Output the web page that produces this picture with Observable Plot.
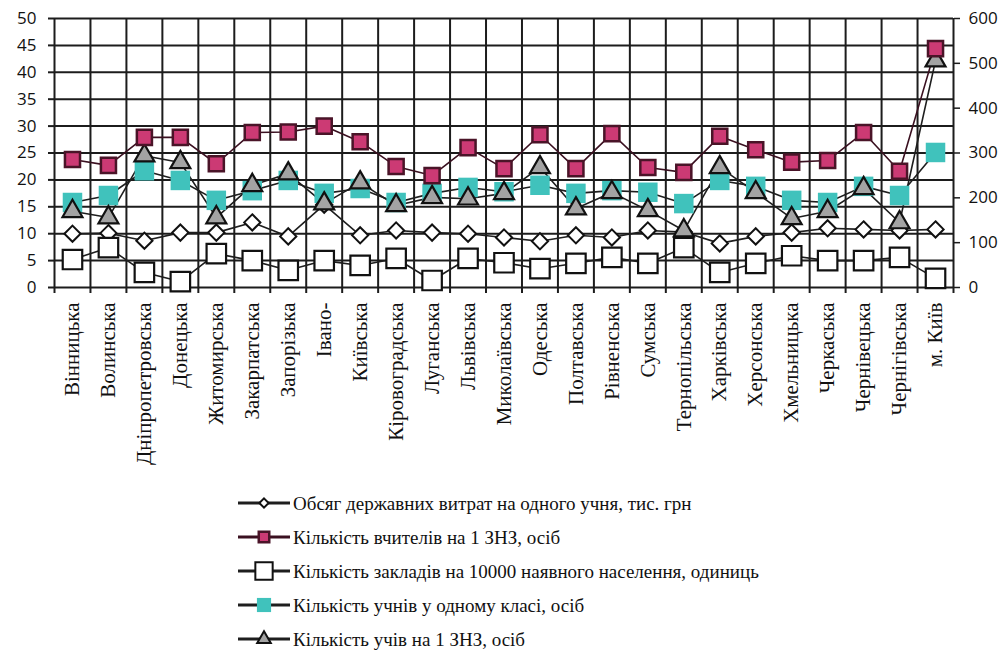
<!DOCTYPE html>
<html>
<head>
<meta charset="utf-8">
<script src="https://cdn.jsdelivr.net/npm/d3@7"></script>
<script src="https://cdn.jsdelivr.net/npm/@observablehq/plot@0.6"></script>
<style>
  body { margin: 0; background: #fff; }
  #chart svg, #legend svg { display: block; }
</style>
</head>
<body>
<div id="chart"></div>
<div id="legend"></div>
<script>
// ---------- data ----------
const regions = ["Вінницька","Волинська","Дніпропетровська","Донецька","Житомирська","Закарпатська","Запорізька","Івано-","Київська","Кіровоградська","Луганська","Львівська","Миколаївська","Одеська","Полтавська","Рівненська","Сумська","Тернопільська","Харківська","Херсонська","Хмельницька","Черкаська","Чернівецька","Чернігівська","м. Київ"];
const spending  = [10.0,10.1,8.7,10.2,10.2,12.1,9.5,15.4,9.7,10.6,10.2,10.0,9.3,8.6,9.7,9.3,10.6,10.3,8.2,9.5,10.2,11.0,10.8,10.6,10.8];
const teachers  = [23.8,22.7,27.9,27.9,23.0,28.8,28.9,30.0,27.1,22.5,20.8,26.0,22.1,28.4,22.1,28.6,22.3,21.4,28.1,25.6,23.3,23.6,28.8,21.6,44.4];
const schools   = [5.2,7.4,2.8,1.1,6.3,5.0,3.2,5.0,4.1,5.4,1.3,5.4,4.6,3.5,4.5,5.6,4.5,7.4,2.8,4.5,5.9,5.0,5.0,5.6,1.7];
const classSize = [15.8,17.1,21.7,19.9,16.2,18.0,19.9,17.5,18.4,15.8,17.5,18.6,17.8,19.0,17.5,18.0,17.7,15.6,19.9,18.8,16.2,15.8,18.8,17.1,25.1];
const pupils    = [170,156,294,279,156,228,254,187,234,183,201,198,210,268,176,212,172,127,268,212,154,170,221,145,506];

const leftTicks  = [0,5,10,15,20,25,30,35,40,45,50];
const rightTicks = [0,100,200,300,400,500,600];
const seriesNames = [
  "Обсяг державних витрат на одного учня, тис. грн",
  "Кількість вчителів на 1 ЗНЗ, осіб",
  "Кількість закладів на 10000 наявного населення, одиниць",
  "Кількість учнів у одному класі, осіб",
  "Кількість учів на 1 ЗНЗ, осіб"
];

// ---------- build ----------
const leftMax = d3.max(leftTicks), rightMax = d3.max(rightTicks);
const ratio = rightMax / leftMax;
const rows = regions.map((r, i) => ({
  x: i + 0.5, region: r,
  spending: spending[i], teachers: teachers[i], schools: schools[i],
  classSize: classSize[i], pupils: pupils[i] / ratio
}));
const bounds = d3.range(0, regions.length + 1);

const GRID = "#1c1c1c";
const PINK = "#cc3a74", PINK_STROKE = "#4a1428";
const CYAN = "#40c2bc";
const TRI = "#a3a3a3";

const lineOpts = {x: "x", stroke: "#1e1e1e", strokeWidth: 1.6};

const chart = Plot.plot({
  width: 1005,
  height: 480,
  marginLeft: 54,
  marginRight: 52,
  marginTop: 18,
  marginBottom: 193,
  x: {domain: [0, regions.length], label: null},
  y: {domain: [0, leftMax], label: null},
  style: {background: "#fff", color: "#111"},
  marks: [
    Plot.ruleY(leftTicks, {stroke: GRID, strokeWidth: 2}),
    Plot.ruleX(bounds, {y1: 0, y2: leftMax, stroke: GRID, strokeWidth: 2}),
    Plot.axisX({ticks: bounds, tickFormat: () => "", tickSize: 6, stroke: GRID, strokeWidth: 2}),
    Plot.axisX({
      ticks: rows.map(d => d.x),
      tickFormat: d => regions[Math.floor(d)],
      tickRotate: -90, tickSize: 0, tickPadding: 15,
      fontSize: 21, fontFamily: "Liberation Serif", fill: "#111"
    }),
    Plot.axisY({ticks: leftTicks, anchor: "left", tickSize: 6, tickPadding: 12,
      fontSize: 17, fontFamily: "Open Sans", fill: "#111", stroke: GRID, strokeWidth: 2}),
    Plot.axisY({ticks: rightTicks.map(v => v / ratio), tickFormat: d => Math.round(d * ratio),
      anchor: "right", tickSize: 6, tickPadding: 9,
      fontSize: 17, fontFamily: "Open Sans", fill: "#111", stroke: GRID, strokeWidth: 1.5}),
    // lines
    Plot.line(rows, {...lineOpts, y: "classSize"}),
    Plot.line(rows, {...lineOpts, y: "spending"}),
    Plot.line(rows, {...lineOpts, y: "schools"}),
    Plot.line(rows, {...lineOpts, y: "pupils"}),
    Plot.line(rows, {...lineOpts, y: "teachers", stroke: "#3a1020"}),
    // markers
    Plot.dot(rows, {x: "x", y: "classSize", symbol: "square", r: 11, fill: CYAN, stroke: "none"}),
    Plot.dot(rows, {x: "x", y: "spending", symbol: "diamond2", r: 7.3, fill: "#fff", stroke: "#111", strokeWidth: 2}),
    Plot.dot(rows, {x: "x", y: "schools", symbol: "square", r: 11, fill: "#fff", stroke: "#111", strokeWidth: 2.2}),
    Plot.dot(rows, {x: "x", y: "pupils", symbol: "triangle", r: 7.4, fill: TRI, stroke: "#111", strokeWidth: 2.2}),
    Plot.dot(rows, {x: "x", y: "teachers", symbol: "square", r: 8.5, fill: PINK, stroke: PINK_STROKE, strokeWidth: 2.5})
  ]
});
document.getElementById("chart").appendChild(chart);

// ---------- legend ----------
const legendStyles = [
  {type: d3.symbolDiamond2, size: 55, fill: "#fff", stroke: "#111", sw: 2},
  {type: d3.symbolSquare, size: 110, fill: PINK, stroke: PINK_STROKE, sw: 2.5},
  {type: d3.symbolSquare, size: 300, fill: "#fff", stroke: "#111", sw: 2},
  {type: d3.symbolSquare, size: 200, fill: CYAN, stroke: "none", sw: 0},
  {type: d3.symbolTriangle, size: 80, fill: TRI, stroke: "#111", sw: 2}
];
const lg = d3.create("svg").attr("width", 1005).attr("height", 170)
  .style("font-family", "'Liberation Serif', serif").style("font-size", "19px");
seriesNames.forEach((name, i) => {
  const g = lg.append("g").attr("transform", `translate(0,${23 + i * 34})`);
  g.append("line").attr("x1", 238).attr("x2", 290).attr("y1", 0).attr("y2", 0)
    .attr("stroke", i === 1 ? "#3a1020" : "#1e1e1e").attr("stroke-width", 3);
  const s = legendStyles[i];
  g.append("path").attr("d", d3.symbol(s.type, s.size)()).attr("transform", "translate(264,0)")
    .attr("fill", s.fill).attr("stroke", s.stroke).attr("stroke-width", s.sw);
  g.append("text").attr("x", 293).attr("y", 0).attr("dy", "0.35em").attr("fill", "#111").text(name);
});
document.getElementById("legend").appendChild(lg.node());
</script>
</body>
</html>
